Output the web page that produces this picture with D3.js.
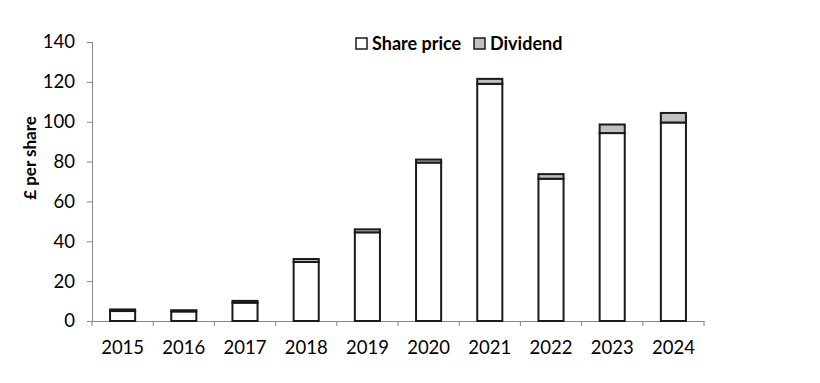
<!DOCTYPE html>
<html><head><meta charset="utf-8">
<script src="https://cdn.jsdelivr.net/npm/d3@7"></script>
<style>body{margin:0;background:#fff}svg{display:block}text{font-family:Lato,"Open Sans",sans-serif}</style>
</head><body>
<svg id="chart" width="820" height="383"></svg>
<script>
const years = ["2015","2016","2017","2018","2019","2020","2021","2022","2023","2024"];
const sharePrice = [5, 4.8, 9.2, 29.6, 44.5, 79.5, 119, 71.4, 94.3, 99.6];
const dividend = [0.8, 0.6, 0.9, 1.5, 1.5, 1.5, 2.5, 2.3, 4.3, 4.8];
const yTicks = [0, 20, 40, 60, 80, 100, 120, 140];
const seriesNames = ["Share price", "Dividend"];
const seriesFill = ["#ffffff", "#c0c0c0"];

const svg = d3.select("#chart");
const m = {left: 92, right: 116, top: 42, bottom: 62};
const W = 820, H = 383;
const x = d3.scaleBand().domain(years).range([m.left, W - m.right]).paddingInner(0.59).paddingOuter(0.295);
const xb = d3.scaleBand().domain(years).range([m.left, W - m.right]);
const y = d3.scaleLinear().domain([0, 140]).range([H - m.bottom, m.top]);

const data = years.map((yr, i) => ({year: yr, "Share price": sharePrice[i], "Dividend": dividend[i]}));
const stacked = d3.stack().keys(seriesNames)(data);

// axes
const yAxis = d3.axisLeft(y).tickValues(yTicks).tickSize(5).tickPadding(12);
const gy = svg.append("g").attr("transform", `translate(${m.left},0)`).call(yAxis);
gy.selectAll("path,line").attr("stroke", "#868686");
gy.selectAll("text").attr("font-size", 18.5).attr("fill", "#000");

const xAxis = d3.axisBottom(xb).tickSize(0).tickPadding(20);
const gx = svg.append("g").attr("transform", `translate(0,${y(0)})`).call(xAxis);
gx.select("path").attr("stroke", "#868686");
gx.selectAll("text").attr("font-size", 18.5).attr("fill", "#000");
// category boundary ticks
gx.selectAll(".bt").data(years.concat(["end"])).enter().append("line")
  .attr("x1", (d, i) => m.left + i * xb.step()).attr("x2", (d, i) => m.left + i * xb.step())
  .attr("y1", 0).attr("y2", 5).attr("stroke", "#868686");

// bars
stacked.forEach((s, si) => {
  svg.append("g").selectAll("rect").data(s).enter().append("rect")
    .attr("x", d => x(d.data.year))
    .attr("width", x.bandwidth())
    .attr("y", d => y(d[1]))
    .attr("height", d => y(d[0]) - y(d[1]))
    .attr("fill", seriesFill[si])
    .attr("stroke", "#1a1a1a")
    .attr("stroke-width", 2);
});

// y title
svg.append("text").attr("transform", `translate(36,158) rotate(-90)`)
  .attr("text-anchor", "middle").attr("font-size", 17).attr("font-weight", "bold").text("£ per share");

// legend
const leg = svg.append("g");
const legX = [356, 474];
seriesNames.forEach((n, i) => {
  leg.append("rect").attr("x", legX[i]).attr("y", 38).attr("width", 11).attr("height", 11)
    .attr("fill", seriesFill[i]).attr("stroke", "#1a1a1a").attr("stroke-width", 1.5);
  leg.append("text").attr("x", legX[i] + 16).attr("y", 50).attr("font-size", 18)
    .attr("font-weight", "bold").text(n);
});
</script>
</body></html>
